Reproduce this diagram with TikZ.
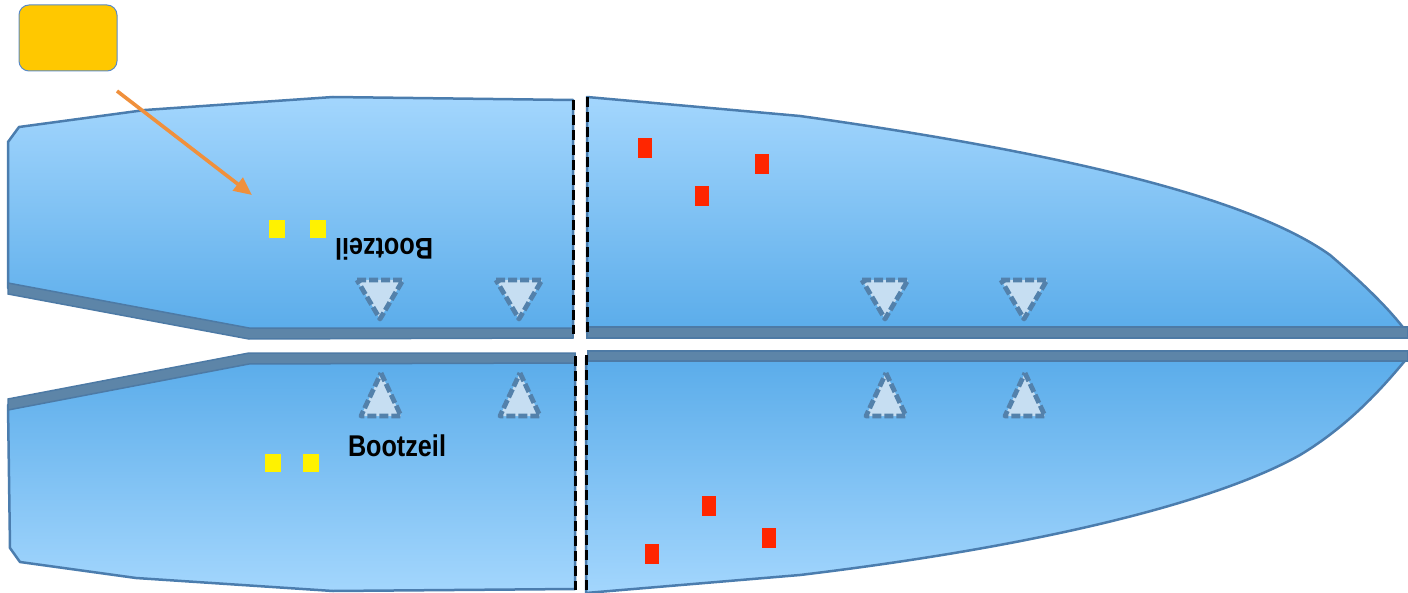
\documentclass[tikz,border=0pt]{standalone}
\usepackage{fontspec}
\usepackage{tikz}
\usetikzlibrary{arrows.meta}
\newfontfamily\boatfont{Liberation Sans}

\definecolor{hullLight}{RGB}{163,214,253}
\definecolor{hullDark}{RGB}{90,172,234}
\definecolor{hullEdge}{RGB}{75,125,174}
\definecolor{bandFill}{RGB}{93,133,168}
\definecolor{bandEdge}{RGB}{77,122,165}
\definecolor{markFill}{RGB}{198,222,242}
\definecolor{markEdge}{RGB}{83,129,171}
\definecolor{boxGold}{RGB}{255,200,0}
\definecolor{boxEdge}{RGB}{90,138,198}
\definecolor{pointerOrange}{RGB}{240,144,60}
\definecolor{ballastRed}{RGB}{255,38,0}

\begin{document}
\begin{tikzpicture}[x=0.5pt, y=-0.5pt,
    hull/.style ={draw=hullEdge, line width=1.25pt, line join=round},
    band/.style ={fill=bandFill, draw=bandEdge, line width=0.75pt},
    cut/.style ={draw=black, line width=1.5pt, dash pattern=on 5pt off 2.5pt},
    marker/.style ={fill=markFill, draw=markEdge, line width=2.4pt, dash pattern=on 4.5pt off 1.5pt, line join=round},
    callout/.style ={rectangle, rounded corners=5pt, fill=boxGold, draw=boxEdge, line width=0.5pt,
      minimum width=49pt, minimum height=33pt, inner sep=0pt},
    pointer/.style ={draw=pointerOrange, line width=1.8pt, -{Triangle[length=9pt,width=8pt]}},
    weight/.style ={rectangle, fill=yellow, minimum width=8pt, minimum height=9pt, inner sep=0pt},
    ballast/.style ={rectangle, fill=ballastRed, minimum width=7pt, minimum height=10pt, inner sep=0pt},
    caption/.style ={font=\fontsize{15}{15}\selectfont\boatfont\bfseries, inner sep=0pt}]
   \useasboundingbox (0,0) rectangle (1408,593);

   % upper half
   \path[hull, top color=hullLight, bottom color=hullDark]
     (573,100) -- (333,97) -- (145,110) -- (19,127) -- (8,142) -- (8,288)
     -- (249,333) -- (573,333) -- cycle;
   \path[hull, top color=hullLight, bottom color=hullDark]
     (587,97) -- (800,116) .. controls (1100,158) and (1260,205) .. (1330,255)
     .. controls (1365,285) and (1390,310) .. (1405,330) -- (1405,333) -- (587,333) -- cycle;
   \path[band] (8,283) -- (249,328) -- (573,328) -- (573,338) -- (249,339) -- (8,294) -- cycle;
   \path[band] (587,327) -- (1408,327) -- (1408,338) -- (587,338) -- cycle;

   % lower half
   \path[hull, top color=hullDark, bottom color=hullLight]
     (8,405) -- (249,358) -- (575,358) -- (575,589) -- (333,591) -- (136,578)
     -- (20,562) -- (10,548) -- cycle;
   \path[hull, top color=hullDark, bottom color=hullLight]
     (586,357) -- (1408,357) .. controls (1385,385) and (1350,425) .. (1300,455)
     .. controls (1220,500) and (1050,545) .. (800,575) -- (586,593) -- cycle;
   \path[band] (8,399) -- (249,353) -- (575,353) -- (575,363) -- (249,364) -- (8,410) -- cycle;
   \path[band] (588,351) -- (1408,351) -- (1408,361) -- (588,361) -- cycle;

   % cut lines
   \draw[cut] (573,100) -- (573,334);
   \draw[cut] (587,97) -- (587,335);
   \draw[cut] (575,356) -- (575,590);
   \draw[cut] (586,355) -- (586,593);

   % markers
   \foreach \x in {380,519,885,1024}
     \draw[marker] (\x-23,280) -- (\x+23,280) -- (\x,319) -- cycle;
   \foreach \x in {381,520,886,1025}
     \draw[marker] (\x,373) -- (\x+20,416) -- (\x-20,416) -- cycle;

   % weights
   \node[weight] (w1) at (277,229) {};
   \node[weight] (w2) at (318,229) {};
   \node[weight] (w3) at (273,463) {};
   \node[weight] (w4) at (311,463) {};
   \node[ballast] (r1) at (645,148) {};
   \node[ballast] (r2) at (702,196) {};
   \node[ballast] (r3) at (762,164) {};
   \node[ballast] (r4) at (709,506) {};
   \node[ballast] (r5) at (652,554) {};
   \node[ballast] (r6) at (769,538) {};

   % labels
   \node[caption, rotate=180] (top) at (384,249) {\scalebox{0.84}[1]{Bootzeil}};
   \node[caption] (bottom) at (397,446) {\scalebox{0.84}[1]{Bootzeil}};

   \node[callout] (box) at (68,38) {};
   \coordinate (tail) at (117,91);
   \coordinate (tip) at (252,195);
   \draw[pointer] (tail) to (tip);
 \end{tikzpicture}
\end{document}
